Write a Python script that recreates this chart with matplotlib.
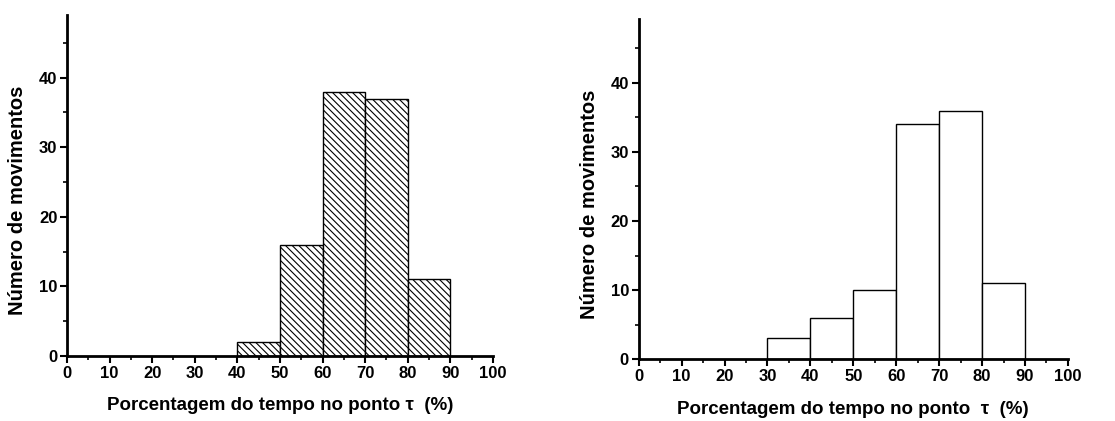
import numpy as np
import matplotlib.pyplot as plt
from matplotlib.ticker import MultipleLocator

plt.rcParams['font.family'] = ['Liberation Sans', 'DejaVu Sans']
plt.rcParams['font.weight'] = 'bold'
plt.rcParams['hatch.linewidth'] = 0.8

# histogram bins (percent of time) and counts
bin_left_a = [40, 50, 60, 70, 80]
counts_a = [2, 16, 38, 37, 11]
bin_left_b = [30, 40, 50, 60, 70, 80]
counts_b = [3, 6, 10, 34, 36, 11]
bin_width = 10

xlabel_a = 'Porcentagem do tempo no ponto τ  (%)'
xlabel_b = 'Porcentagem do tempo no ponto  τ  (%)'
ylabel = 'Número de movimentos'

fig = plt.figure(figsize=(11.15, 4.21), dpi=100)
ax1 = fig.add_axes([0.0601, 0.1544, 0.382, 0.81])
ax2 = fig.add_axes([0.5728, 0.147, 0.385, 0.807])


def style_axis(ax, ytop, xlabel):
    ax.set_xlim(0, 100)
    ax.set_ylim(0, ytop)
    for s in ['top', 'right']:
        ax.spines[s].set_visible(False)
    for s in ['left', 'bottom']:
        ax.spines[s].set_linewidth(2)
    ax.xaxis.set_major_locator(MultipleLocator(10))
    ax.xaxis.set_minor_locator(MultipleLocator(5))
    ax.yaxis.set_major_locator(MultipleLocator(10))
    ax.yaxis.set_minor_locator(MultipleLocator(5))
    ax.tick_params(which='major', length=5, width=1.5, labelsize=12, pad=2)
    ax.tick_params(which='minor', length=3, width=1.2)
    ax.set_xlabel(xlabel, fontsize=13.5, fontweight='bold', labelpad=12)
    ax.set_ylabel(ylabel, fontsize=14.5, fontweight='bold')
    ax.yaxis.set_label_coords(-0.093, 0.457)


ax1.bar(bin_left_a, counts_a, width=bin_width, align='edge', facecolor='white',
        edgecolor='black', linewidth=1, hatch='\\' * 5)
style_axis(ax1, 49, xlabel_a)

ax2.bar(bin_left_b, counts_b, width=bin_width, align='edge', facecolor='white',
        edgecolor='black', linewidth=1)
style_axis(ax2, 49.2, xlabel_b)

fig.savefig('out.png', dpi=100)
